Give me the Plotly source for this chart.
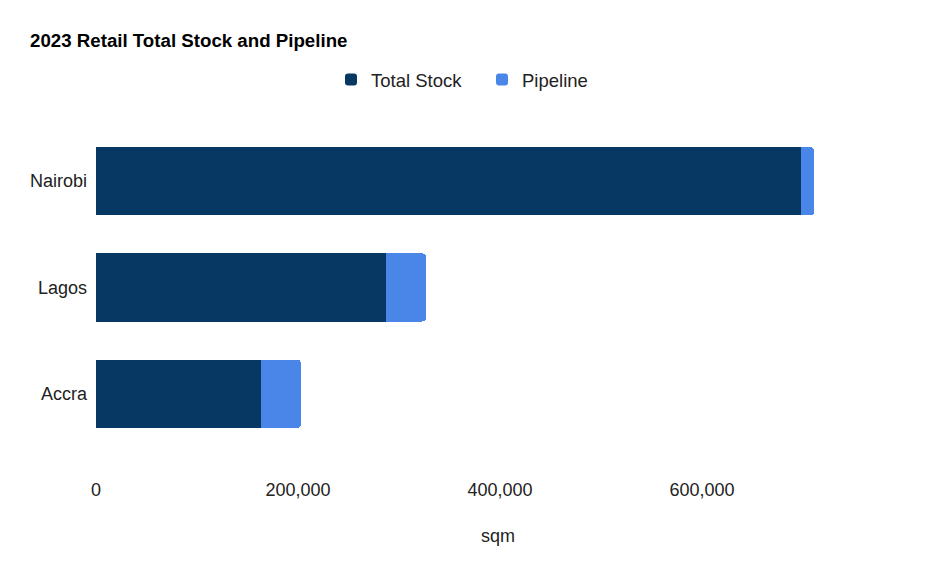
# %%
import plotly.graph_objects as go

cities = ["Accra", "Lagos", "Nairobi"]
total_stock = [163000, 287000, 698000]
pipeline = [40000, 40000, 13000]

fig = go.Figure()

fig.add_trace(go.Bar(y= cities, x= total_stock, name= "Total Stock",
                     orientation= "h", marker= dict(color= "#073763", line= dict(width= 0))))
fig.add_trace(go.Bar(y= cities, x= pipeline, name= "Pipeline",
                     orientation= "h", marker= dict(color= "#4a86e8", line= dict(width= 0))))

# page has an 8px body margin, so positions are shifted back by 8
fig.update_layout(
    barmode= "stack",
    bargap= 0.36,
    barcornerradius= 4,
    width= 932, height= 576,
    paper_bgcolor= "white", plot_bgcolor= "white",
    font= dict(family= "Liberation Sans, Arial, sans-serif", size= 18, color= "#222222"),
    margin= dict(l= 88, r= 40, t= 120, b= 137, autoexpand= False),
    title= dict(text= "<b>2023 Retail Total Stock and Pipeline</b>",
                font= dict(size= 18.7, color= "#000000"),
                xref= "container", x= 22 / 932, xanchor= "left",
                yref= "container", y= 1 - 32 / 576, yanchor= "middle"),
    legend= dict(orientation= "h", xref= "container", x= 323 / 932, xanchor= "left",
                 yref= "container", y= 1 - 72 / 576, yanchor= "middle",
                 font= dict(size= 18.5, color= "#222222"),
                 traceorder= "normal", entrywidth= 106),
    showlegend= True,
)

fig.update_xaxes(range= [0, 796000], tickvals= [0, 200000, 400000, 600000],
                 tickformat= ",", showgrid= False, zeroline= False, showline= False,
                 ticks= "", ticklabelstandoff= 30,
                 title= dict(text= "sqm", standoff= 30, font= dict(size= 18)))
fig.update_yaxes(showgrid= False, zeroline= False, showline= False, ticks= "",
                 ticklabelstandoff= 8, range= [-0.5, 2.5])

fig.write_html("out.html")
